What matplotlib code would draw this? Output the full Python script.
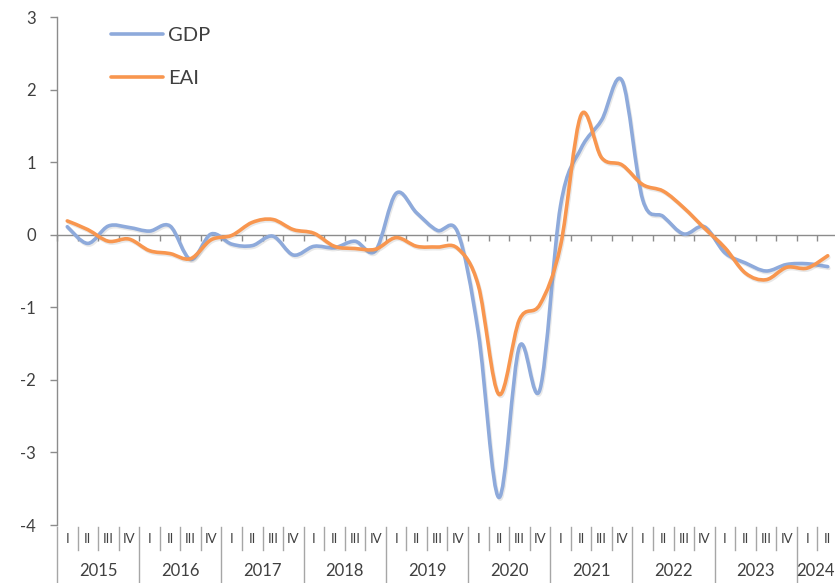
import numpy as np
import matplotlib
matplotlib.use("Agg")
import matplotlib.pyplot as plt
from matplotlib.path import Path
from matplotlib.patches import PathPatch
from matplotlib.lines import Line2D
from matplotlib.transforms import blended_transform_factory
import matplotlib.patheffects as pe

plt.rcParams['font.family'] = ['Lato', 'DejaVu Sans']

# Quarterly data, 2015 Q1 .. 2024 Q2
years = [2015, 2016, 2017, 2018, 2019, 2020, 2021, 2022, 2023, 2024]
quarters = ["I", "II", "III", "IV"]
gdp = [0.11, -0.12, 0.12, 0.10, 0.05, 0.12, -0.34, 0.01, -0.13, -0.15,
       -0.02, -0.28, -0.16, -0.18, -0.09, -0.22, 0.57, 0.30, 0.06, 0.03,
       -1.35, -3.62, -1.54, -2.13, 0.40, 1.19, 1.58, 2.12, 0.48, 0.25,
       0.01, 0.11, -0.25, -0.39, -0.50, -0.41, -0.40, -0.44]
eai = [0.19, 0.07, -0.09, -0.06, -0.22, -0.26, -0.33, -0.07, -0.01, 0.17,
       0.21, 0.07, 0.02, -0.16, -0.19, -0.20, -0.04, -0.16, -0.17, -0.19,
       -0.7, -2.2, -1.17, -0.96, -0.15, 1.65, 1.06, 0.96, 0.69, 0.60,
       0.37, 0.09, -0.18, -0.53, -0.62, -0.45, -0.46, -0.29]

blue = '#8eaadb'
orange = '#f8964f'
grey = '#8c8c8c'
txt = '#404040'


def smooth_path(vals):
    # Excel-style smoothed line as cubic Bezier segments
    pts = np.column_stack([np.arange(len(vals)), vals]).astype(float)
    n = len(pts)
    verts = [pts[0]]
    codes = [Path.MOVETO]
    for i in range(n - 1):
        p0 = pts[max(i - 1, 0)]
        p1 = pts[i]
        p2 = pts[i + 1]
        p3 = pts[min(i + 2, n - 1)]
        verts += [p1 + (p2 - p0) / 6, p2 - (p3 - p1) / 6, p2]
        codes += [Path.CURVE4] * 3
    return Path(verts, codes)


fig = plt.figure(figsize=(8.35, 5.83), dpi=100)
ax = fig.add_axes([57 / 835, 58 / 583, (838 - 57) / 835, 508 / 583])

shadow = [pe.SimpleLineShadow(offset=(0.8, -1.2), shadow_color='grey', alpha=0.18), pe.Normal()]
for vals, col in [(gdp, blue), (eai, orange)]:
    patch = PathPatch(smooth_path(vals), fill=False, edgecolor=col, lw=2.6,
                      capstyle='round', joinstyle='round', zorder=3)
    patch.set_path_effects(shadow)
    ax.add_patch(patch)

n = len(gdp)
ax.set_xlim(-0.5, n - 0.5)
ax.set_ylim(-4, 3)

ax.spines['top'].set_visible(False)
ax.spines['right'].set_visible(False)
ax.spines['left'].set_color(grey)
ax.spines['left'].set_linewidth(1.0)
ax.spines['bottom'].set_position(('data', 0))
ax.spines['bottom'].set_color(grey)
ax.spines['bottom'].set_linewidth(1.0)
ax.spines['bottom'].set_zorder(1)

ax.set_yticks(range(-4, 4))
ax.set_yticklabels([str(v) for v in range(-4, 4)])
ax.tick_params(axis='y', colors=grey, length=5, width=1.0, labelsize=12,
               labelcolor=txt, pad=10)
ax.set_xticks(np.arange(-0.5, n + 0.5, 1))
ax.set_xticklabels([])
ax.tick_params(axis='x', colors=grey, length=4, width=1.0, direction='out')

# multi-level category axis below the plot
tr = blended_transform_factory(ax.transData, ax.transAxes)
for k in range(n + 1):
    x = -0.5 + k
    if k % 4 == 0:
        ax.plot([x, x], [-0.004, -0.12], color='#a6a6a6', lw=1.0,
                transform=tr, clip_on=False)
    else:
        ax.plot([x, x], [-0.004, -0.049], color='#a6a6a6', lw=1.0,
                transform=tr, clip_on=False)
for i in range(n):
    ax.text(i, -0.027, quarters[i % 4], transform=tr, ha='center', va='center',
            fontsize=9.5, color=txt)
for j, yr in enumerate(years):
    first = j * 4
    last = min(first + 3, n - 1)
    xc = (first + last) / 2
    if last - first < 3:
        xc -= 0.12  # keep the short last group's label inside the figure
    ax.text(xc, -0.091, str(yr), transform=tr, ha='center',
            va='center', fontsize=12, color=txt)

handles = [Line2D([], [], color=blue, lw=2.6, solid_capstyle='round'),
           Line2D([], [], color=orange, lw=2.6, solid_capstyle='round')]
leg = ax.legend(handles, ["GDP", "EAI"], loc='upper left',
                bbox_to_anchor=(111 / 835, 1 - 27 / 583),
                bbox_transform=fig.transFigure, frameon=False, fontsize=14.5,
                handlelength=2.6, handletextpad=0.25, labelspacing=1.3,
                borderpad=0, borderaxespad=0)
for t in leg.get_texts():
    t.set_color(txt)

fig.savefig("out.png", dpi=100)
